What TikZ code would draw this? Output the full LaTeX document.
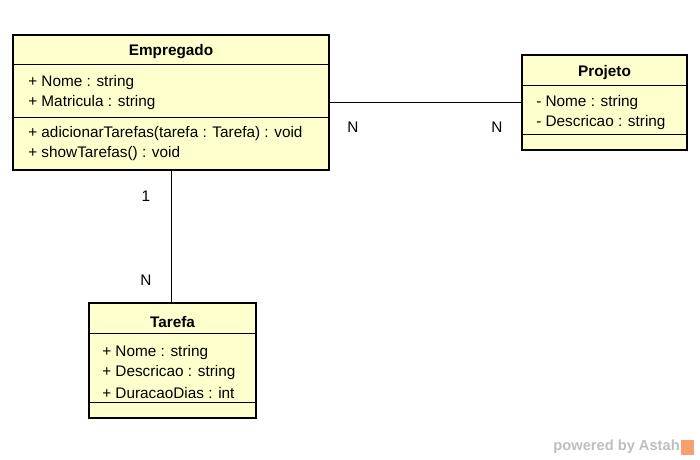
\documentclass[tikz,border=0pt]{standalone}
\usepackage{fontspec}
\setmainfont{Liberation Sans}
\definecolor{classfill}{RGB}{255,255,206}
\definecolor{astahgray}{RGB}{190,190,190}
\definecolor{astahorange}{RGB}{245,160,110}
\begin{document}
\begin{tikzpicture}[
x=0.75pt, y=-0.75pt,
class/.style={rectangle, draw=black, line width=2.2pt, fill=classfill, inner sep=0pt},
title/.style={yshift=-1.5pt, font=\fontsize{11.5}{13}\selectfont\bfseries},
member/.style={anchor=west, yshift=-1.5pt, inner sep=0pt, font=\fontsize{11.5}{13}\selectfont},
sep/.style={line width=0.75pt},
assoc/.style={line width=0.75pt},
mult/.style={font=\fontsize{11.5}{13}\selectfont},
]
\useasboundingbox (0,0) rectangle (700,460);

% Classes
\node[class, minimum width=237pt, minimum height=101.25pt] (emp) at (171,102.5) {};
\node[class, minimum width=123.75pt, minimum height=71.25pt] (proj) at (604.5,102.5) {};
\node[class, minimum width=125.25pt, minimum height=86.25pt] (tar) at (172.5,360.5) {};

% Empregado
\node[title] (empT) at (171,50) {Empregado};
\draw[sep] (emp.west |- 0,65) -- (emp.east |- 0,65);
\node[member] (empA1) at (28,81) {+ Nome : string};
\node[member] (empA2) at (28,101) {+ Matricula : string};
\draw[sep] (emp.west |- 0,118) -- (emp.east |- 0,118);
\node[member] (empO1) at (28,132) {+ adicionarTarefas(tarefa : Tarefa) : void};
\node[member] (empO2) at (28,152) {+ showTarefas() : void};

% Projeto
\node[title] (projT) at (604.5,71) {Projeto};
\draw[sep] (proj.west |- 0,86) -- (proj.east |- 0,86);
\node[member] (projA1) at (536,101) {- Nome : string};
\node[member] (projA2) at (536,121) {- Descricao : string};
\draw[sep] (proj.west |- 0,134) -- (proj.east |- 0,134);

% Tarefa
\node[title] (tarT) at (172.5,320) {Tarefa};
\draw[sep] (tar.west |- 0,333) -- (tar.east |- 0,333);
\node[member] (tarA1) at (102,351) {+ Nome : string};
\node[member] (tarA2) at (102,371) {+ Descricao : string};
\node[member] (tarA3) at (102,391) {+ DuracaoDias : int};
\draw[sep] (tar.west |- 0,402) -- (tar.east |- 0,402);

% Associations
\draw[assoc] (emp.east) -- (proj.west);
\node[mult] (m1) at (353,127) {N};
\node[mult] (m2) at (497,127) {N};
\draw[assoc] (emp.south -| 171,0) -- (tar.north -| 171,0);
\node[mult] (m3) at (146,196) {1};
\node[mult] (m4) at (146,280) {N};

% Watermark
\node[anchor=east, inner sep=0pt, text=astahgray, font=\fontsize{11}{12}\selectfont\bfseries] (mark) at (680,447) {powered by Astah};
\fill[astahorange] (681,440) rectangle (694,455);
\end{tikzpicture}
\end{document}
